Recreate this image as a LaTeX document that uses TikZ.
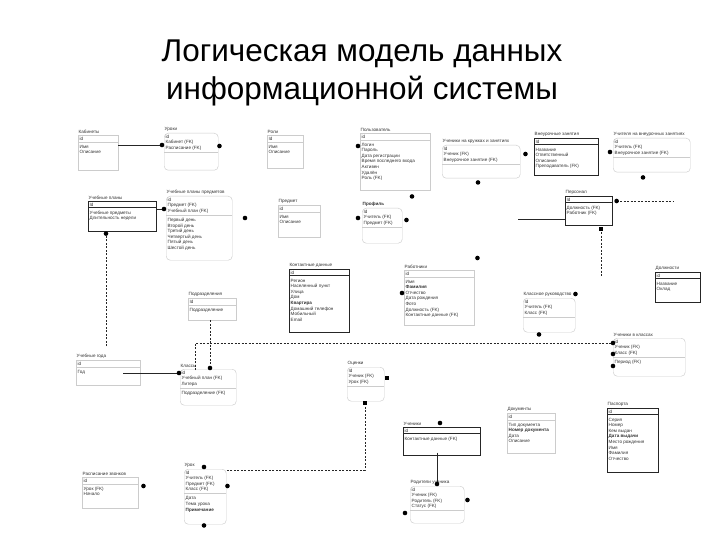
\documentclass[tikz,border=0pt]{standalone}
\usepackage{fontspec}
\setmainfont{Liberation Sans}
\usetikzlibrary{calc}
\tikzset{
 enttitle/.style={font=\fontsize{4.6}{5.4}\selectfont, text=black!80, inner sep=0.5pt},
 enttext/.style={font=\fontsize{4.6}{5.6}\selectfont, text=black!80, align=left, inner sep=1.5pt},
 entbox/.style={draw=gray!40, line width=0.45pt, inner sep=0},
 darkbox/.style={draw=black!85, line width=0.6pt},
 rel/.style={line width=0.6pt, draw=black!85},
 reld/.style={rel, dash pattern=on 2pt off 1.5pt},
 enddot/.style={circle, fill=black, inner sep=0, minimum size=4.6pt},
 endsq/.style={rectangle, fill=black, inner sep=0, minimum size=4pt},
 bigtitle/.style={font=\fontsize{31.5}{38}\selectfont, text=black, inner sep=0},
}
% #1 name, #2 x, #3 y, #4 w, #5 h, #6 box style, #7 title, #8 keys, #9 attrs
\newcommand\ent[9]{%
 \node[entbox,#6,minimum width=#4,minimum height=#5,anchor=north west] (#1) at (#2,#3) {};
 \node[enttitle,anchor=south west] (#1-t) at ([yshift=1pt]#1.north west) {#7};
 \node[enttext,anchor=north west] (#1-k) at (#1.north west) {#8};
 \node[enttext,anchor=north west] (#1-a) at ([yshift=-1.5pt]#1-k.south west) {#9};
 \draw[entbox,#6] (#1-k.south west -| #1.west) -- (#1-k.south west -| #1.east);
}
\begin{document}
\begin{tikzpicture}[x=1pt,y=-1pt]
\useasboundingbox (0,0) rectangle (720,540);
\fill[white] (0,0) rectangle (720,540);

\node[bigtitle,anchor=base] (title1) at (362,62) {Логическая модель данных};
\node[bigtitle,anchor=base] (title2) at (362,100) {информационной системы};

\ent{kab}{78}{135}{40}{35}{}{Кабинеты}{id}{Имя\\Описание}
\ent{uroki}{164}{133}{54}{37}{rounded corners=4pt}{Уроки}{id\\Кабинет (FK)\\Расписание (FK)}{}
\ent{roli}{267}{135}{36}{33}{}{Роли}{Id}{Имя\\Описание}
\ent{polz}{360}{133}{70}{57}{}{Пользователь}{id}{Логин\\Пароль\\Дата регистрации\\Время последнего входа\\Активен\\Удалён\\Роль (FK)}
\ent{uchkr}{442}{145}{78}{33}{rounded corners=4pt}{Ученики на кружках и занятиях}{Id\\Ученик (FK)\\Внеурочное занятие (FK)}{}
\ent{vnz}{534}{138}{64}{37}{darkbox}{Внеурочные занятия}{Id}{Название\\Ответственный\\Описание\\Преподаватель (FK)}
\ent{uchvn}{613}{138}{77}{34}{rounded corners=4pt}{Учителя на внеурочных занятиях}{id\\Учитель (FK)\\Внеурочное занятие (FK)}{}
\ent{uplan}{88}{201}{68}{30}{darkbox}{Учебные планы}{Id}{Учебные предметы\\Длительность недели}
\ent{uplp}{166}{196}{66}{64}{rounded corners=4pt}{Учебные планы предметов}{id\\Предмет (FK)\\Учебный план (FK)}{Первый день\\Второй день\\Третий день\\Четвертый день\\Пятый день\\Шестой день}
\ent{pred}{278}{205}{42}{32}{}{Предмет}{id}{Имя\\Описание}
\ent{prof}{362}{208}{40}{35}{rounded corners=4pt}{\textbf{Профиль}}{Id\\Учитель (FK)\\Предмет (FK)}{}
\ent{pers}{565}{196}{47}{29}{darkbox}{Персонал}{Id}{Должность (FK)\\Работник (FK)}
\ent{kont}{289}{269}{60}{63}{darkbox}{Контактные данные}{id}{Регион\\Населенный пункт\\Улица\\Дом\\\textbf{Квартира}\\Домашний телефон\\Мобильный\\Email}
\ent{rab}{404}{270}{70}{55}{}{Работники}{id}{Имя\\\textbf{Фамилия}\\Отчество\\Дата рождения\\Фото\\Должность (FK)\\Контактные данные (FK)}
\ent{podr}{188}{298}{48}{22}{}{Подразделения}{Id}{Подразделение}
\ent{klr}{523}{298}{52}{34}{rounded corners=4pt}{Классное руководство}{Id\\Учитель (FK)\\Класс (FK)}{}
\ent{dolzh}{655}{272}{45}{30}{darkbox}{Должности}{id}{Название\\Оклад}
\ent{uchkl}{613}{338}{72}{38}{rounded corners=4pt}{Ученики в классах}{id\\Ученик (FK)\\Класс (FK)}{Период (FK)}
\ent{ugod}{76}{360}{64}{25}{}{Учебные года}{id}{Год}
\ent{klass}{180}{369}{56}{36}{rounded corners=4pt}{Классы}{id\\Учебный план (FK)\\Литера}{Подразделение (FK)}
\ent{ocen}{347}{367}{37}{34}{rounded corners=4pt}{Оценки}{Id\\Ученик (FK)\\Урок (FK)}{}
\ent{uchen}{403}{427}{77}{28}{darkbox}{Ученики}{id}{Контактные данные (FK)}
\ent{dok}{507}{413}{48}{40}{}{Документы}{id}{Тип документа\\\textbf{Номер документа}\\Дата\\Описание}
\ent{pasp}{607}{408}{51}{64}{darkbox}{Паспорта}{id}{Серия\\Номер\\Кем выдан\\\textbf{Дата выдачи}\\Место рождения\\Имя\\Фамилия\\Отчество}
\ent{zvon}{82}{477}{56}{31}{}{Расписание звонков}{id}{Урок (FK)\\Начало}
\ent{rasp}{184}{469}{42}{55}{rounded corners=4pt}{Урок}{Id\\Учитель (FK)\\Предмет (FK)\\Класс (FK)}{Дата\\Тема урока\\\textbf{Примечание}}
\ent{rodu}{410}{486}{54}{37}{rounded corners=4pt}{Родители ученика}{id\\Ученик (FK)\\Родитель (FK)\\Статус (FK)}{}

% connectors
\draw[rel] ($(kab.north east)+(0,10)$) -- ($(uroki.north west)+(-2,12)$) node[enddot] (d1) {};
\draw[rel] ($(uplan.north east)+(0,8)$) -- ($(uplp.north west)+(-2,13)$) node[enddot] (d2) {};
\draw[reld] ($(ugod.north west)+(30,-14)$) -- ($(uplan.south west)+(18,2)$) node[enddot] (d3) {};
\draw[rel] ($(ugod.north west)+(47,13)$) -- ($(klass.north west)+(-1,4)$) node[enddot] (d4) {};
\draw[reld] ($(podr.south west)+(22,0)$) -- ($(klass.north west)+(30,-1)$) node[enddot] (d5) {};
\draw[reld] ($(klass.north west)+(15,1)$) |- ($(uchkl.north west)+(0,5)$) node[enddot] (d6) {};
\draw[reld] ($(ocen.south west)+(18,2)$) node[endsq] (s1) {} |- ($(rasp.north east)+(-1,1)$);
\draw[rel] ($(uchen.south west)+(34,-3)$) -- ($(rodu.north west)+(27,-2)$) node[enddot] (d7) {};
\coordinate (persfree) at ($(pers.north east)+(61,5)$);
\draw[reld] ($(pers.north east)+(4,5)$) node[enddot] (d8) {} -- (persfree);
\coordinate (persdown) at ($(pers.south west)+(36,52)$);
\draw[reld] ($(pers.south west)+(36,3)$) node[endsq] (s2) {} -- (persdown);
\coordinate (persleft) at ($(pers.north west)+(-47,23)$);
\draw[rel] (persleft) -- ($(pers.north west)+(0,23)$);

% isolated relationship ends
\node[enddot] (e1) at ($(uroki.north east)+(1,13)$) {};
\node[enddot] (e2) at ($(pred.north west)+(-33,13)$) {};
\node[enddot] (e3) at ($(polz.north west)+(-2,13)$) {};
\node[enddot] (e4) at ($(prof.north west)+(-4,10)$) {};
\node[enddot] (e5) at ($(prof.north east)+(4,12)$) {};
\node[enddot] (e6) at ($(polz.south west)+(52,6)$) {};
\node[enddot] (e7) at ($(uchkr.north east)+(5,9)$) {};
\node[enddot] (e8) at ($(uchkr.south west)+(36,4)$) {};
\node[enddot] (e9) at ($(uchvn.north west)+(-3,14)$) {};
\node[enddot] (e10) at ($(uchvn.south west)+(30,5)$) {};
\node[enddot] (e11) at ($(rab.north east)+(3,-12)$) {};
\node[enddot] (e12) at ($(rab.north west)+(-2,23)$) {};
\node[enddot] (e13) at ($(klr.north east)+(0,-4)$) {};
\node[enddot] (e14) at ($(klr.south west)+(16,2)$) {};
\node[enddot] (e15) at ($(uchkl.north west)+(0,16)$) {};
\node[enddot] (e16) at ($(uchkl.north west)+(0,28)$) {};
\node[endsq] (e17) at ($(ocen.north east)+(3,11)$) {};
\node[enddot] (e18) at ($(uchen.north west)+(37,-4)$) {};
\node[enddot] (e19) at ($(rodu.north east)+(3,14)$) {};
\node[enddot] (e20) at ($(rodu.north west)+(-5,27)$) {};
\node[enddot] (e21) at ($(zvon.north east)+(5,9)$) {};
\node[enddot] (e22) at ($(rasp.north west)+(20,-2)$) {};
\node[enddot] (e23) at ($(rasp.north east)+(1,17)$) {};
\node[enddot] (e24) at ($(rasp.south west)+(20,1)$) {};
\end{tikzpicture}
\end{document}
